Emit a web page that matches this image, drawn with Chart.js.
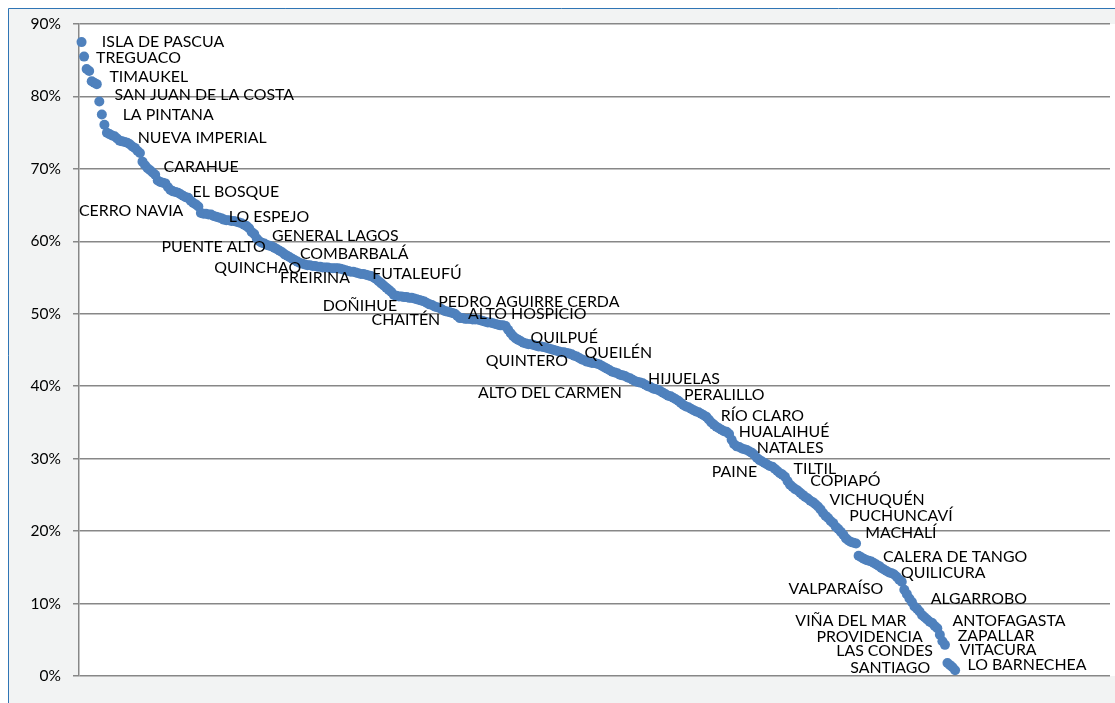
<!DOCTYPE html>
<html>
<head>
<meta charset="utf-8">
<script src="https://cdn.jsdelivr.net/npm/chart.js@4.4.0/dist/chart.umd.min.js"></script>
<style>
html,body{margin:0;padding:0;background:#fff;overflow:hidden}
#wrap{position:absolute;left:0;top:0;width:1115px;height:703px}
canvas{display:block}
</style>
</head>
<body>
<div id="wrap"><canvas id="c" width="1115" height="703"></canvas></div>
<script>
// Share per comuna, sorted descending (percent)
const values = [
  87.5, 85.5, 83.8, 83.5, 82.1, 81.9, 81.7, 79.3, 77.5, 76.1,
  75.0, 74.8, 74.6, 74.5, 74.2, 73.9, 73.8, 73.7, 73.6, 73.4,
  73.1, 72.9, 72.5, 72.2, 71.0, 70.5, 70.1, 69.8, 69.5, 69.2,
  68.4, 68.2, 68.1, 68.0, 67.5, 67.1, 66.9, 66.8, 66.7, 66.5,
  66.3, 66.1, 66.0, 65.6, 65.3, 65.1, 64.8, 63.9, 63.8, 63.8,
  63.7, 63.7, 63.5, 63.4, 63.3, 63.2, 63.0, 62.9, 62.9, 62.8,
  62.8, 62.7, 62.6, 62.5, 62.3, 62.1, 61.8, 61.3, 61.0, 60.4,
  60.0, 59.8, 59.7, 59.5, 59.4, 59.3, 59.1, 58.9, 58.7, 58.5,
  58.2, 58.0, 57.8, 57.6, 57.4, 57.2, 57.0, 56.9, 56.8, 56.7,
  56.7, 56.6, 56.6, 56.5, 56.5, 56.4, 56.4, 56.4, 56.3, 56.3,
  56.3, 56.3, 56.2, 56.1, 56.0, 55.9, 55.8, 55.8, 55.7, 55.6,
  55.5, 55.5, 55.4, 55.3, 55.2, 55.0, 54.8, 54.5, 54.2, 53.9,
  53.6, 53.3, 53.0, 52.6, 52.5, 52.4, 52.4, 52.3, 52.3, 52.2,
  52.2, 52.1, 52.0, 51.9, 51.8, 51.7, 51.5, 51.3, 51.2, 51.0,
  50.9, 50.8, 50.6, 50.4, 50.3, 50.2, 50.1, 50.0, 49.7, 49.4,
  49.4, 49.3, 49.3, 49.3, 49.2, 49.2, 49.2, 49.1, 49.0, 48.9,
  48.8, 48.8, 48.7, 48.6, 48.5, 48.4, 48.4, 48.3, 47.8, 47.3,
  46.9, 46.6, 46.4, 46.2, 46.0, 45.9, 45.8, 45.8, 45.7, 45.6,
  45.5, 45.5, 45.4, 45.3, 45.2, 45.1, 45.0, 44.9, 44.8, 44.7,
  44.7, 44.6, 44.5, 44.4, 44.2, 44.1, 43.9, 43.7, 43.6, 43.4,
  43.3, 43.2, 43.2, 43.1, 43.0, 42.8, 42.6, 42.4, 42.2, 42.0,
  41.9, 41.8, 41.6, 41.5, 41.4, 41.2, 41.1, 40.9, 40.7, 40.6,
  40.5, 40.4, 40.2, 40.0, 39.9, 39.7, 39.6, 39.5, 39.3, 39.1,
  38.9, 38.7, 38.6, 38.4, 38.2, 38.0, 37.7, 37.4, 37.2, 37.1,
  36.9, 36.7, 36.5, 36.4, 36.2, 36.0, 35.8, 35.4, 35.0, 34.7,
  34.4, 34.2, 34.0, 33.8, 33.7, 33.4, 32.6, 32.0, 31.7, 31.6,
  31.4, 31.3, 31.2, 31.0, 30.8, 30.5, 30.1, 29.8, 29.6, 29.4,
  29.2, 29.0, 28.9, 28.6, 28.3, 28.0, 27.8, 27.5, 26.9, 26.4,
  26.1, 25.8, 25.6, 25.3, 25.0, 24.7, 24.5, 24.2, 24.0, 23.7,
  23.4, 23.0, 22.5, 22.1, 21.8, 21.4, 21.1, 20.6, 20.3, 19.9,
  19.5, 19.0, 18.7, 18.5, 18.4, 18.3, 16.6, 16.4, 16.2, 16.0,
  15.9, 15.8, 15.6, 15.4, 15.2, 14.9, 14.7, 14.5, 14.3, 14.2,
  14.0, 13.7, 13.3, 13.0, 11.9, 11.3, 10.7, 10.2, 9.6, 9.3,
  8.9, 8.4, 8.1, 7.8, 7.5, 7.3, 6.9, 6.6, 5.7, 4.8,
  4.3, 1.8, 1.5, 1.2, 0.8
];

// Comuna name labels
const labelNames = [
  "ISLA DE PASCUA","TREGUACO","TIMAUKEL","SAN JUAN DE LA COSTA","LA PINTANA",
  "NUEVA IMPERIAL","CARAHUE","EL BOSQUE","CERRO NAVIA","LO ESPEJO",
  "PUENTE ALTO","GENERAL LAGOS","COMBARBALÁ","QUINCHAO","FREIRINA",
  "FUTALEUFÚ","DOÑIHUE","PEDRO AGUIRRE CERDA","CHAITÉN","ALTO HOSPICIO",
  "QUILPUÉ","QUINTERO","QUEILÉN","HIJUELAS","ALTO DEL CARMEN",
  "PERALILLO","RÍO CLARO","HUALAIHUÉ","NATALES","PAINE",
  "TILTIL","COPIAPÓ","VICHUQUÉN","PUCHUNCAVÍ","MACHALÍ",
  "CALERA DE TANGO","QUILICURA","VALPARAÍSO","ALGARROBO","VIÑA DEL MAR",
  "ANTOFAGASTA","PROVIDENCIA","ZAPALLAR","LAS CONDES","VITACURA",
  "SANTIAGO","LO BARNECHEA"
];
// label anchor (left edge) in axis units: rank position
const labelRank = [
  9.0, 6.7, 12.0, 14.0, 17.2,
  23.1, 33.3, 44.7, 0.0, 59.0,
  32.5, 76.0, 87.0, 53.3, 79.2,
  115.5, 96.0, 141.5, 115.2, 153.2,
  177.8, 160.2, 199.1, 224.1, 157.1,
  238.2, 252.7, 259.8, 266.9, 249.2,
  281.4, 288.0, 295.5, 303.3, 309.6,
  316.6, 323.7, 279.4, 335.4, 282.1,
  344.0, 290.4, 346.0, 298.2, 346.8,
  303.7, 349.9
];
// label anchor (vertical centre) in axis units: percent
const labelPct = [
  87.5, 85.3, 82.7, 80.2, 77.4,
  74.3, 70.3, 66.8, 64.2, 63.4,
  59.3, 60.7, 58.3, 56.3, 55.0,
  55.5, 51.1, 51.6, 49.2, 50.0,
  46.7, 43.5, 44.6, 41.0, 39.1,
  38.8, 35.9, 33.7, 31.5, 28.2,
  28.6, 26.9, 24.3, 22.1, 19.7,
  16.5, 14.2, 12.0, 10.6, 7.6,
  7.6, 5.4, 5.6, 3.5, 3.6,
  1.1, 1.5
];
const yTicks = [0, 10, 20, 30, 40, 50, 60, 70, 80, 90];

const FONT = 'Lato, "Liberation Sans", sans-serif';

const bgPlugin = {
  id: 'bg',
  beforeDraw(chart) {
    const ctx = chart.ctx, W = chart.width, H = chart.height, a = chart.chartArea;
    ctx.save();
    ctx.fillStyle = '#ffffff';
    ctx.fillRect(0, 0, W, H);
    ctx.fillStyle = '#f2f3f3';
    ctx.fillRect(8, 8, W - 8, H - 8);
    ctx.strokeStyle = '#2f75b5';
    ctx.lineWidth = 1;
    ctx.beginPath();
    ctx.moveTo(8.5, H);
    ctx.lineTo(8.5, 8.5);
    ctx.lineTo(W, 8.5);
    ctx.stroke();
    ctx.fillStyle = '#ffffff';
    ctx.fillRect(a.left, a.top, W - a.left, a.bottom - a.top);
    ctx.restore();
  }
};

const labelPlugin = {
  id: 'names',
  afterDatasetsDraw(chart) {
    const ctx = chart.ctx, xs = chart.scales.x, ys = chart.scales.y;
    ctx.save();
    ctx.font = '15.9px ' + FONT;
    ctx.fillStyle = '#000000';
    ctx.textAlign = 'left';
    ctx.textBaseline = 'middle';
    labelNames.forEach((n, i) => {
      ctx.fillText(n, xs.getPixelForValue(labelRank[i]), ys.getPixelForValue(labelPct[i]));
    });
    ctx.restore();
  }
};

new Chart(document.getElementById('c'), {
  type: 'scatter',
  data: {
    datasets: [{
      data: values.map((v, i) => ({ x: i + 1, y: v })),
      pointRadius: 5,
      pointHoverRadius: 5,
      pointBackgroundColor: '#4f81bd',
      pointBorderColor: '#4f81bd',
      pointBorderWidth: 0,
      showLine: false,
      clip: false
    }]
  },
  options: {
    responsive: false,
    animation: false,
    events: [],
    layout: { padding: { left: 0, top: 24, right: 0, bottom: 27 } },
    plugins: { legend: { display: false }, tooltip: { enabled: false } },
    scales: {
      x: { type: 'linear', min: 0, max: 406, display: false },
      y: {
        min: 0, max: 90,
        afterBuildTicks(s) { s.ticks = yTicks.map(v => ({ value: v })); },
        afterFit(s) { s.width = 79; },
        ticks: {
          callback: v => v + '%',
          color: '#000000',
          padding: 12,
          font: { family: FONT, size: 15.5 }
        },
        grid: { color: '#878787', lineWidth: 1.5, tickLength: 6, drawTicks: true },
        border: { display: true, color: '#878787', width: 1.5 }
      }
    }
  },
  plugins: [bgPlugin, labelPlugin]
});
</script>
</body>
</html>
